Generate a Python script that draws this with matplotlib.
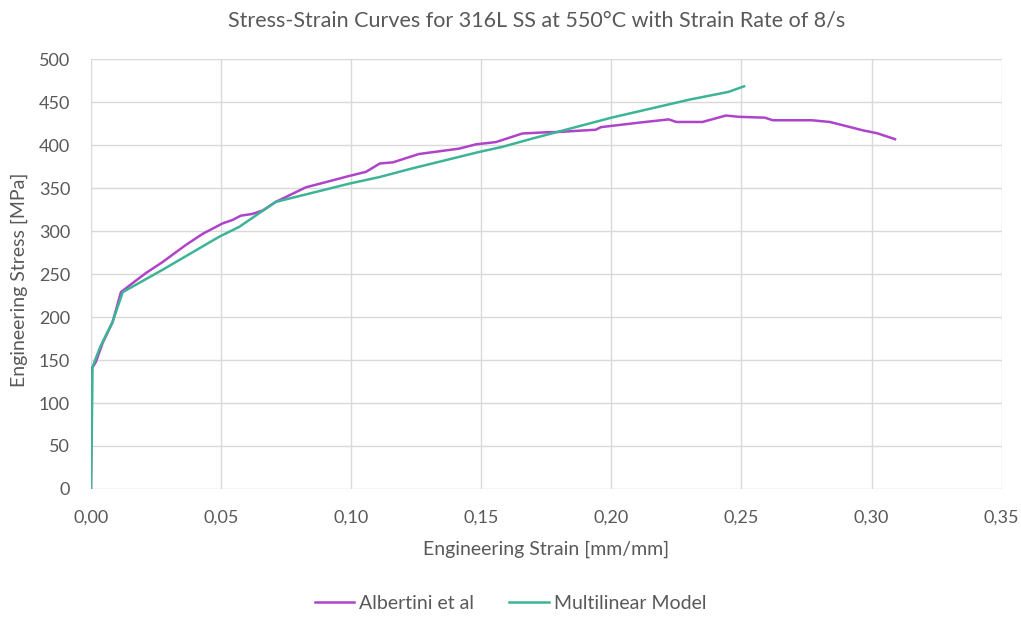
import matplotlib.pyplot as plt
from matplotlib.ticker import FuncFormatter

plt.rcParams['font.family'] = ['Lato', 'DejaVu Sans']

# Albertini et al (experimental)
alb_strain = [0.0, 0.0003, 0.0019, 0.0045, 0.0083, 0.0115, 0.016, 0.021, 0.0275,
              0.0365, 0.043, 0.0506, 0.0544, 0.0576, 0.062, 0.066, 0.071, 0.0826,
              0.089, 0.099, 0.1057, 0.111, 0.116, 0.126, 0.1415, 0.148, 0.1556,
              0.1658, 0.175, 0.180, 0.194, 0.196, 0.210, 0.222, 0.225, 0.235,
              0.244, 0.249, 0.259, 0.262, 0.277, 0.284, 0.297, 0.302, 0.309]
alb_stress = [0, 140, 148, 170, 194, 229, 239.5, 251, 264, 284, 297, 309, 313,
              318, 320, 324, 334, 351, 356, 364, 369, 378.7, 380, 389.7, 396, 401,
              403.6, 413.6, 415, 415.4, 418, 421, 426, 430, 427, 427, 434.5, 433,
              432, 429, 429, 427, 417, 414, 407]

# Multilinear model
ml_strain = [0.0, 0.0003, 0.0006, 0.0035, 0.0083, 0.0122, 0.0275, 0.0493, 0.057,
             0.071, 0.0996, 0.111, 0.1235, 0.149, 0.158, 0.170, 0.180, 0.190,
             0.200, 0.210, 0.230, 0.245, 0.251]
ml_stress = [0, 61, 142, 165, 194.5, 229, 255, 293.5, 305, 334, 355.5, 363, 373,
             392, 398, 408, 416, 424, 432, 439, 453, 462, 468.5]

fig = plt.figure(figsize=(10.21, 6.17), dpi=100)
ax = fig.add_axes([0.0891, 0.2075, 0.892, 0.6965])

ax.plot(alb_strain, alb_stress, color='#AD44C9', lw=1.8, label='Albertini et al')
ax.plot(ml_strain, ml_stress, color='#3DB496', lw=1.8, label='Multilinear Model')

ax.set_xlim(0, 0.35)
ax.set_ylim(0, 500)
ax.set_xticks([i * 0.05 for i in range(8)])
ax.set_yticks(range(0, 501, 50))
ax.xaxis.set_major_formatter(FuncFormatter(lambda v, p: f'{v:.2f}'.replace('.', ',')))
ax.grid(True, color='#D9D9D9', lw=1)
ax.set_axisbelow(True)
for s in ax.spines.values():
    s.set_visible(False)
ax.tick_params(length=0, labelsize=13, colors='#595959')
ax.tick_params(axis='x', pad=15)
ax.tick_params(axis='y', pad=15)

ax.set_xlabel('Engineering Strain [mm/mm]', fontsize=14, color='#595959', labelpad=11)
ax.set_ylabel('Engineering Stress [MPa]', fontsize=14, color='#595959')
ax.yaxis.set_label_coords(-0.069, 0.486)
fig.text(0.526, 0.967, 'Stress-Strain Curves for 316L SS at 550°C with Strain Rate of 8/s',
         fontsize=15.5, color='#595959', ha='center', va='center')

fig.legend(loc='center', bbox_to_anchor=(0.5, 0.022), ncol=2, frameon=False,
           fontsize=14, labelcolor='#595959', handlelength=2.05, handletextpad=0.25,
           columnspacing=1.8)

plt.savefig('out.png', dpi=100)
